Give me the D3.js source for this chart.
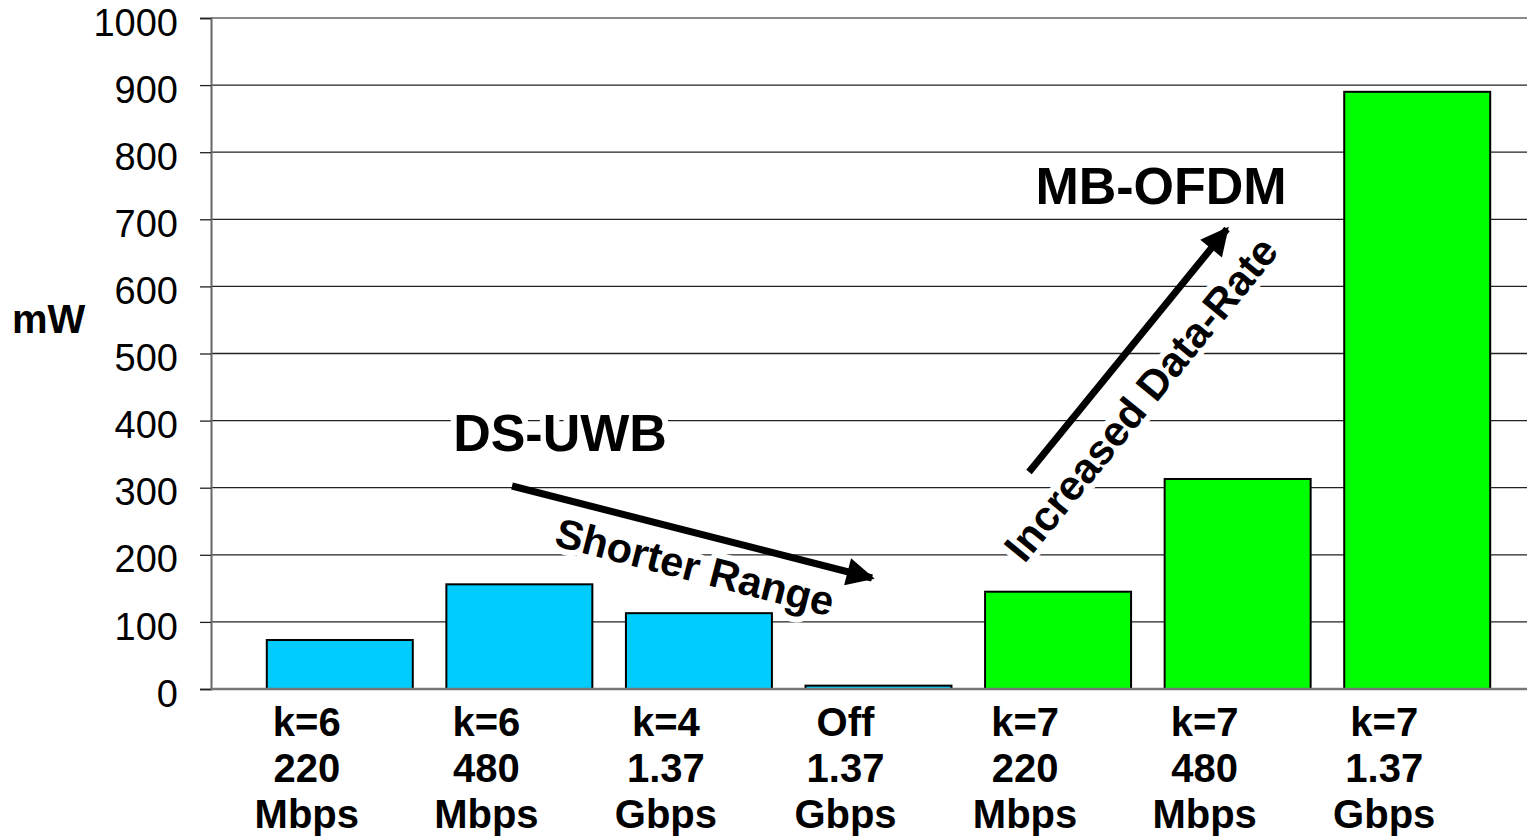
<!DOCTYPE html>
<html>
<head>
<meta charset="utf-8">
<script src="https://cdn.jsdelivr.net/npm/d3@7"></script>
<style>
  html, body { margin: 0; padding: 0; background: #fff; }
  svg { display: block; }
  text { font-family: Arial, "Liberation Sans", sans-serif; }
</style>
</head>
<body>
<svg id="chart" width="1527" height="838"></svg>
<script>
// ---- data ----
const categories = ["k=6 220 Mbps", "k=6 480 Mbps", "k=4 1.37 Gbps", "Off 1.37 Gbps",
                    "k=7 220 Mbps", "k=7 480 Mbps", "k=7 1.37 Gbps"];
const labelLine1 = ["k=6", "k=6", "k=4", "Off", "k=7", "k=7", "k=7"];
const labelLine2 = ["220", "480", "1.37", "1.37", "220", "480", "1.37"];
const labelLine3 = ["Mbps", "Mbps", "Gbps", "Gbps", "Mbps", "Mbps", "Gbps"];
const values = [73, 156, 113, 5, 145, 313, 890];
const groups = ["DS-UWB", "DS-UWB", "DS-UWB", "DS-UWB", "MB-OFDM", "MB-OFDM", "MB-OFDM"];
const yTicks = [0, 100, 200, 300, 400, 500, 600, 700, 800, 900, 1000];
const yLabel = "mW";

// ---- layout ----
const svg = d3.select("#chart");
const plotLeft = 211, plotRight = 1527, plotTop = 18, plotBottom = 689;

const x = d3.scaleBand().domain(categories).range([250, 1507])
  .paddingInner(0.187).paddingOuter(0.0935);
const y = d3.scaleLinear().domain([0, 1000]).range([plotBottom, plotTop]);
const color = d3.scaleOrdinal().domain(["DS-UWB", "MB-OFDM"]).range(["#00CCFF", "#00FF00"]);

// gridlines
svg.append("g").selectAll("line").data(yTicks.filter(d => d > 0)).join("line")
  .attr("x1", plotLeft).attr("x2", plotRight)
  .attr("y1", d => y(d)).attr("y2", d => y(d))
  .attr("stroke", d => d === 1000 ? "#8a8a8a" : "#222")
  .attr("stroke-width", d => d === 1000 ? 2 : 1.3);

// y axis
const yAxis = d3.axisLeft(y).tickValues(yTicks).tickFormat(d3.format("d"))
  .tickSize(11).tickPadding(22);
const gy = svg.append("g").attr("transform", `translate(${plotLeft},0)`).call(yAxis);
gy.select(".domain").attr("stroke", "#666").attr("stroke-width", 2);
gy.selectAll(".tick line").attr("stroke", "#222").attr("stroke-width", 1.3);
gy.selectAll(".tick text").attr("font-size", 38).attr("fill", "#000")
  .attr("dy", "0.45em")
  .attr("font-family", "Arial, 'Liberation Sans', sans-serif");

// bars
svg.append("g").selectAll("rect").data(categories).join("rect")
  .attr("x", d => x(d))
  .attr("y", (d, i) => y(values[i]))
  .attr("width", x.bandwidth())
  .attr("height", (d, i) => y(0) - y(values[i]))
  .attr("fill", (d, i) => color(groups[i]))
  .attr("stroke", "#000").attr("stroke-width", 2);

// baseline
svg.append("line").attr("x1", plotLeft).attr("x2", plotRight)
  .attr("y1", y(0)).attr("y2", y(0)).attr("stroke", "#777").attr("stroke-width", 2.5);

// x labels
const labelShift = -33;
const lg = svg.append("g");
[labelLine1, labelLine2, labelLine3].forEach((arr, li) => {
  lg.selectAll(null).data(categories).join("text")
    .attr("x", d => x(d) + x.bandwidth() / 2 + labelShift)
    .attr("y", 736 + li * 46)
    .attr("text-anchor", "middle")
    .attr("font-size", 40).attr("font-weight", "bold")
    .text((d, i) => arr[i]);
});

// y label
svg.append("text").attr("x", 12).attr("y", 333)
  .attr("font-size", 40).attr("font-weight", "bold").text(yLabel);

// arrows
const defs = svg.append("defs");
defs.append("marker").attr("id", "ah").attr("viewBox", "0 0 10 10")
  .attr("refX", 9).attr("refY", 5).attr("markerWidth", 4.2).attr("markerHeight", 4)
  .attr("markerUnits", "strokeWidth").attr("orient", "auto")
  .append("path").attr("d", "M0,0 L10,5 L0,10 z").attr("fill", "#000");

function arrow(x1, y1, x2, y2) {
  svg.append("line").attr("x1", x1).attr("y1", y1).attr("x2", x2).attr("y2", y2)
    .attr("stroke", "#000").attr("stroke-width", 7).attr("marker-end", "url(#ah)");
}

function haloText(txt, cx, cy, angle, size) {
  svg.append("text")
    .attr("transform", `translate(${cx},${cy}) rotate(${angle})`)
    .attr("text-anchor", "middle").attr("dominant-baseline", "central")
    .attr("font-size", size).attr("font-weight", "bold")
    .attr("stroke", "#fff").attr("stroke-width", 12).attr("paint-order", "stroke")
    .attr("stroke-linejoin", "round")
    .text(txt);
}

// group titles
haloText("DS-UWB", 560, 433, 0, 52);
haloText("MB-OFDM", 1161, 186, 0, 52);

// annotation texts
haloText("Shorter Range", 695, 567, 14.4, 41.5);
haloText("Increased Data-Rate", 1141, 399, -50.7, 42);

arrow(512, 486, 872, 578);
arrow(1029, 472, 1227, 229);
</script>
</body>
</html>
